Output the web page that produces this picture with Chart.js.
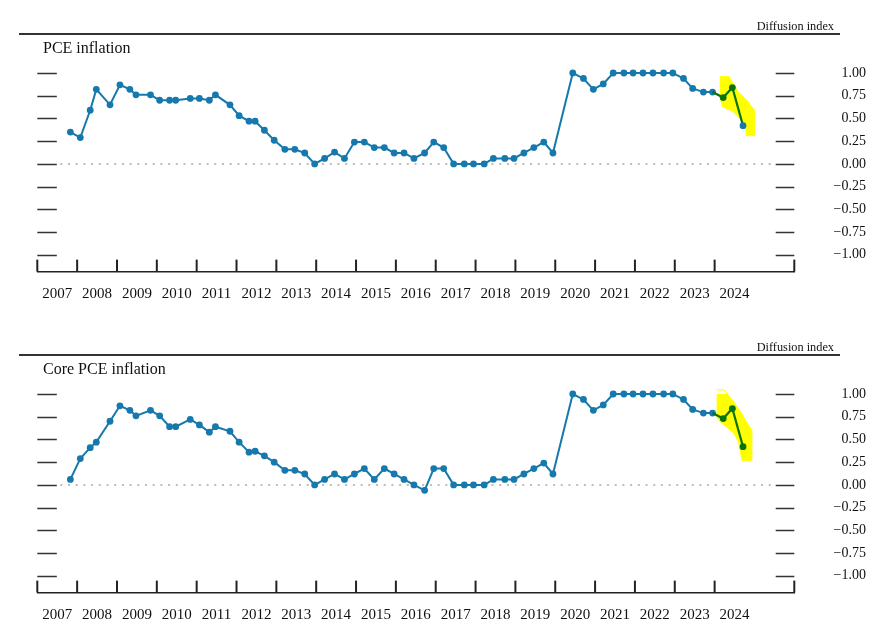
<!DOCTYPE html>
<html><head><meta charset="utf-8">
<script src="https://cdn.jsdelivr.net/npm/chart.js@4.4.1/dist/chart.umd.min.js"></script>
<style>
html,body{margin:0;padding:0;background:#fff;width:881px;height:640px;overflow:hidden;}
.panel{position:absolute;left:0;width:881px;height:319px;}
canvas{position:absolute;left:0;top:0;}
.rule{position:absolute;left:19px;width:821px;height:1.4px;background:#333;top:33.4px}
.unit{position:absolute;font-family:"Liberation Serif";font-size:12.3px;line-height:1;right:47px;top:19.7px;color:#111;white-space:nowrap}
.title{position:absolute;font-family:"Liberation Serif";font-size:16px;line-height:1;left:43px;top:39.9px;color:#111;white-space:nowrap}
</style></head>
<body>
<div class="panel" style="top:0">
  <canvas id="c1" width="881" height="319"></canvas>
  <div class="unit">Diffusion index</div>
  <div class="rule"></div>
  <div class="title">PCE inflation</div>
</div>
<div class="panel" style="top:321px">
  <canvas id="c2" width="881" height="319"></canvas>
  <div class="unit">Diffusion index</div>
  <div class="rule"></div>
  <div class="title">Core PCE inflation</div>
</div>
<script>
// ---- data ----
const dates = [
 "2007-10-31",
 "2008-01-30","2008-04-30","2008-06-25","2008-10-29",
 "2009-01-28","2009-04-29","2009-06-24","2009-11-04",
 "2010-01-27","2010-04-28","2010-06-23","2010-11-03",
 "2011-01-26","2011-04-27","2011-06-22","2011-11-02",
 "2012-01-25","2012-04-25","2012-06-20","2012-09-13","2012-12-12",
 "2013-03-20","2013-06-19","2013-09-18","2013-12-18",
 "2014-03-19","2014-06-18","2014-09-17","2014-12-17",
 "2015-03-18","2015-06-17","2015-09-17","2015-12-16",
 "2016-03-16","2016-06-15","2016-09-21","2016-12-14",
 "2017-03-15","2017-06-14","2017-09-20","2017-12-13",
 "2018-03-21","2018-06-13","2018-09-26","2018-12-19",
 "2019-03-20","2019-06-19","2019-09-18","2019-12-11",
 "2020-06-10","2020-09-16","2020-12-16",
 "2021-03-17","2021-06-16","2021-09-22","2021-12-15",
 "2022-03-16","2022-06-15","2022-09-21","2022-12-14",
 "2023-03-22","2023-06-14","2023-09-20","2023-12-13",
 "2024-03-20","2024-06-12","2024-09-18"
];
const pceValues = [
 0.35,
 0.29,0.59,0.82,0.65,
 0.87,0.82,0.76,0.76,
 0.70,0.70,0.70,0.72,
 0.72,0.70,0.76,0.65,
 0.53,0.47,0.47,0.37,0.26,
 0.16,0.16,0.12,0.00,
 0.06,0.13,0.06,0.24,
 0.24,0.18,0.18,0.12,
 0.12,0.06,0.12,0.24,
 0.18,0.00,0.00,0.00,
 0.00,0.06,0.06,0.06,
 0.12,0.18,0.24,0.12,
 1.00,0.94,0.82,
 0.88,1.00,1.00,1.00,
 1.00,1.00,1.00,1.00,
 0.94,0.83,0.79,0.79,
 0.73,0.84,0.42
];
const coreValues = [
 0.06,
 0.29,0.41,0.47,0.70,
 0.87,0.82,0.76,0.82,
 0.76,0.64,0.64,0.72,
 0.66,0.58,0.64,0.59,
 0.47,0.36,0.37,0.32,0.25,
 0.16,0.16,0.12,0.00,
 0.06,0.12,0.06,0.12,
 0.18,0.06,0.18,0.12,
 0.06,0.00,-0.06,0.18,
 0.18,0.00,0.00,0.00,
 0.00,0.06,0.06,0.06,
 0.12,0.18,0.24,0.12,
 1.00,0.94,0.82,
 0.88,1.00,1.00,1.00,
 1.00,1.00,1.00,1.00,
 0.94,0.83,0.79,0.79,
 0.73,0.84,0.42
];
const projectionStartDate = "2023-12-13";
// uncertainty band outline (decimal year, value)
const pceBandUpper = [[2024.13,0.96],[2024.36,0.96],[2024.58,0.80],[2024.83,0.69],[2024.91,0.64],[2024.99,0.60]];
const pceBandLower = [[2024.13,0.74],[2024.20,0.63],[2024.45,0.58],[2024.66,0.49],[2024.79,0.42],[2024.79,0.31],[2024.99,0.31]];
const coreBandUpper = [[2024.05,1.045],[2024.24,1.045],[2024.45,0.93],[2024.66,0.80],[2024.83,0.67],[2024.93,0.60]];
const coreBandLower = [[2024.05,0.745],[2024.15,0.69],[2024.35,0.62],[2024.48,0.57],[2024.60,0.47],[2024.69,0.27],[2024.93,0.27]];
const years = [2007,2008,2009,2010,2011,2012,2013,2014,2015,2016,2017,2018,2019,2020,2021,2022,2023,2024];
const yearLabels = years.map(String);
const yearTickMarks = [2007,2008,2009,2010,2011,2012,2013,2014,2015,2016,2017,2018,2019,2020,2021,2022,2023,2024,2026];
const yTicks = [-1,-0.75,-0.5,-0.25,0,0.25,0.5,0.75,1];
const yTickLabels = ["\u22121.00","\u22120.75","\u22120.50","\u22120.25","0.00","0.25","0.50","0.75","1.00"];

// ---- styling ----
const BLUE = "#1679ad", GREEN = "#0b730b", YELLOW = "#ffff00", INK = "#222";
const FONT = "Liberation Serif";

function toYear(s){
  const d = Date.parse(s + "T00:00:00Z");
  const y = Number(s.slice(0,4));
  const a = Date.UTC(y,0,1), b = Date.UTC(y+1,0,1);
  return y + (d - a) / (b - a);
}

const decor = {
  id: "decor",
  beforeDatasetsDraw(chart){
    const {ctx, chartArea:a, scales:{x, y}} = chart;
    ctx.save();
    // zero dotted line
    const y0 = y.getPixelForValue(0);
    ctx.strokeStyle = "#bdbdbd"; ctx.lineWidth = 2; ctx.setLineDash([2,5.7]);
    ctx.beginPath(); ctx.moveTo(a.left + 23, y0); ctx.lineTo(a.right - 20, y0); ctx.stroke();
    ctx.setLineDash([]);
    // y tick marks left & right
    ctx.strokeStyle = "#333"; ctx.lineWidth = 1.3;
    yTicks.forEach(v => {
      const p = Math.round(y.getPixelForValue(v)) + 0.5;
      ctx.beginPath();
      ctx.moveTo(a.left, p); ctx.lineTo(a.left + 19.5, p);
      ctx.moveTo(a.right - 18.6, p); ctx.lineTo(a.right, p);
      ctx.stroke();
    });
    // year tick marks (upward from axis)
    ctx.strokeStyle = INK; ctx.lineWidth = 2;
    yearTickMarks.forEach(v => {
      const p = x.getPixelForValue(v);
      ctx.beginPath(); ctx.moveTo(p, a.bottom); ctx.lineTo(p, a.bottom - 12); ctx.stroke();
    });
    ctx.restore();
  }
};

function makeChart(id, values, bandUpper, bandLower, lastColor){
  const cut = dates.indexOf(projectionStartDate);
  const pts = dates.map((d,i) => ({x: toYear(d), y: values[i]}));
  const band = bandUpper.concat(bandLower.slice().reverse()).map(([x,y]) => ({x, y}));
  const greenPts = pts.slice(cut);
  return new Chart(document.getElementById(id), {
    type: "line",
    data: { datasets: [
      { data: greenPts, borderColor: GREEN, borderWidth: 2.2, tension: 0,
        pointRadius: greenPts.map((p,i) => i === 0 ? 0 : 3.4),
        pointBackgroundColor: greenPts.map((p,i) => i === greenPts.length-1 ? lastColor : GREEN),
        pointBorderWidth: 0, order: 0, clip: false },
      { data: pts.slice(0, cut + 1), borderColor: BLUE, borderWidth: 2, tension: 0,
        pointRadius: 3.4, pointBackgroundColor: BLUE, pointBorderWidth: 0, order: 1, clip: false },
      { data: band, borderColor: YELLOW, borderWidth: 1, backgroundColor: YELLOW,
        fill: "shape", pointRadius: 0, tension: 0, order: 2, clip: false }
    ]},
    options: {
      responsive: false, animation: false, events: [], devicePixelRatio: 1,
      layout: { padding: { left: 37.3, right: 15, top: 73, bottom: 0 } },
      plugins: { legend: { display: false }, tooltip: { enabled: false } },
      scales: {
        x: { type: "linear", position: "bottom", min: 2007, max: 2026,
          afterBuildTicks: s => { s.ticks = years.map(v => ({ value: v + 0.5 })); },
          afterFit: s => { s.height = 45; },
          grid: { display: false, drawTicks: false },
          border: { display: true, color: INK, width: 1.4 },
          ticks: { autoSkip: false, maxRotation: 0, padding: 13, color: "#111",
            font: { family: FONT, size: 15 }, callback: (v, i) => yearLabels[i] } },
        y: { type: "linear", position: "right", min: -1.185, max: 1,
          afterBuildTicks: s => { s.ticks = yTicks.map(v => ({ value: v })); },
          afterFit: s => { s.width = 71.7; },
          grid: { display: false, drawTicks: false },
          border: { display: false },
          ticks: { crossAlign: "far", padding: 39, color: "#111",
            font: { family: FONT, size: 14 }, callback: (v, i) => yTickLabels[i] } }
      }
    },
    plugins: [decor]
  });
}
makeChart("c1", pceValues, pceBandUpper, pceBandLower, BLUE);
makeChart("c2", coreValues, coreBandUpper, coreBandLower, GREEN);
</script>
</body></html>
